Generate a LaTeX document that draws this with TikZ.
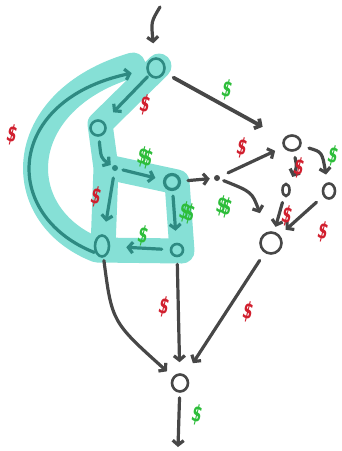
\documentclass[tikz,border=0pt]{standalone}
\usepackage{fontspec}
\setsansfont{DejaVu Sans}
\usetikzlibrary{arrows.meta,shapes.geometric}
\definecolor{hl}{HTML}{86E0D6}
\definecolor{dteal}{HTML}{2E8A82}
\definecolor{dgray}{HTML}{474747}
\definecolor{dred}{HTML}{D11F2E}
\definecolor{dgreen}{HTML}{2DBD3A}
\tikzset{
  nd/.style={ellipse, draw=#1, line width=2.6pt, inner sep=0pt},
  dotnode/.style={circle, fill=#1, inner sep=0pt, minimum size=6pt},
  edgebase/.style={line width=3.2pt, line cap=round, line join=round,
    -{Straight Barb[length=4.5pt,width=11pt]}},
  te/.style={edgebase, draw=dteal},
  ge/.style={edgebase, draw=dgray},
  dol/.style={text=#1, font=\fontsize{23}{23}\selectfont\sffamily\bfseries,
    inner sep=0pt, rotate=-14, xscale=0.62},
}
\begin{document}
\begin{tikzpicture}[x=1pt,y=-1pt]
\useasboundingbox (0,0) rectangle (341,451);

% highlight band
\draw[hl, line width=25pt, line cap=round, line join=round]
  (133,65) .. controls (12,100) and (8,215) .. (97,250) -- (182,251) -- (177,182) -- (112,168)
  (159,66) -- (100,124) -- (106,168) -- (103,248);

% nodes
\coordinate (S) at (160,7);
\coordinate (T) at (178,447);
\node[nd=dteal, minimum width=17pt, minimum height=19pt] (A) at (156,68) {};
\node[nd=dteal, minimum width=15pt, minimum height=15pt] (B) at (98,128) {};
\node[dotnode=dteal] (C) at (115,168) {};
\node[nd=dteal, line width=3.2pt, minimum width=15pt, minimum height=15pt] (D) at (172,182) {};
\node[nd=dteal, minimum width=14pt, minimum height=21pt] (E) at (102,246) {};
\node[nd=dteal, minimum width=12pt, minimum height=12pt] (F) at (177,250) {};
\node[dotnode=dgray] (G) at (217,178) {};
\node[nd=dgray, minimum width=17pt, minimum height=15pt] (H) at (292,143) {};
\node[nd=dgray, minimum width=7pt, minimum height=12pt] (I) at (286,190) {};
\node[nd=dgray, minimum width=12pt, minimum height=15pt] (J) at (329,191) {};
\node[nd=dgray, minimum width=21pt, minimum height=21pt] (K) at (271,243) {};
\node[nd=dgray, minimum width=16pt, minimum height=17pt] (L) at (180,383) {};

% highlighted edges
\draw[te, shorten <=2pt, shorten >=13pt] (A) -- (B);
\draw[te, shorten <=5pt, shorten >=2pt] (B) .. controls (101,158) .. (C);
\draw[te, shorten <=5pt, shorten >=8pt] (C) -- (D);
\draw[te, shorten <=7pt, shorten >=13pt] (C) -- (E);
\draw[te, shorten <=5pt, shorten >=12pt] (D) -- (F);
\draw[te, shorten <=8pt, shorten >=16pt] (F) -- (E);
\draw[te, shorten <=1pt, shorten >=15pt] (E.225) .. controls (0,215) and (5,100) .. (A);

% gray edges
\draw[ge, shorten >=14pt] (S) .. controls (151,22) .. (A);
\draw[ge, line width=3.8pt, shorten <=10pt, shorten >=24pt] (A) -- (H);
\draw[ge, shorten <=7pt, shorten >=4pt] (D) -- (G);
\draw[ge, shorten <=9pt, shorten >=9pt] (G) -- (H);
\draw[ge, shorten <=4pt, shorten >=20pt] (G) .. controls (252,192) .. (K);
\draw[ge, shorten <=6pt, shorten >=8pt] (H) .. controls (297,167) .. (I);
\draw[ge, shorten <=8pt, shorten >=8pt] (H) .. controls (322,152) .. (J);
\draw[ge, shorten <=6pt, shorten >=5pt] (I) -- (K);
\draw[ge, shorten <=9pt, shorten >=8pt] (J) -- (K);
\draw[ge, shorten <=3pt, shorten >=8pt] (E) .. controls (112,322) .. (L);
\draw[ge, shorten <=7pt, shorten >=11pt] (F) -- (L);
\draw[ge, shorten <=9pt, shorten >=14pt] (K) -- (L);
\draw[ge, shorten <=5pt] (L) -- (T);

% labels
\node[dol=dred] (d1) at (12,135) {\$};
\node[dol=dred] (d2) at (145,105) {\$};
\node[dol=dgreen] (d3) at (145,158) {\$\kern-7pt\$};
\node[dol=dred] (d4) at (96,197) {\$};
\node[dol=dgreen] (d5) at (187,213) {\$\kern-7pt\$};
\node[dol=dgreen] (d6) at (143,236) {\$};
\node[dol=dgreen] (d7) at (227,90) {\$};
\node[dol=dred] (d8) at (242,148) {\$};
\node[dol=dgreen] (d9) at (224,207) {\$\kern-7pt\$};
\node[dol=dred] (d10) at (299,168) {\$};
\node[dol=dgreen] (d11) at (333,156) {\$};
\node[dol=dred] (d12) at (287,216) {\$};
\node[dol=dred] (d13) at (323,232) {\$};
\node[dol=dred] (d14) at (164,307) {\$};
\node[dol=dred] (d15) at (248,312) {\$};
\node[dol=dgreen] (d16) at (197,415) {\$};
\end{tikzpicture}
\end{document}
